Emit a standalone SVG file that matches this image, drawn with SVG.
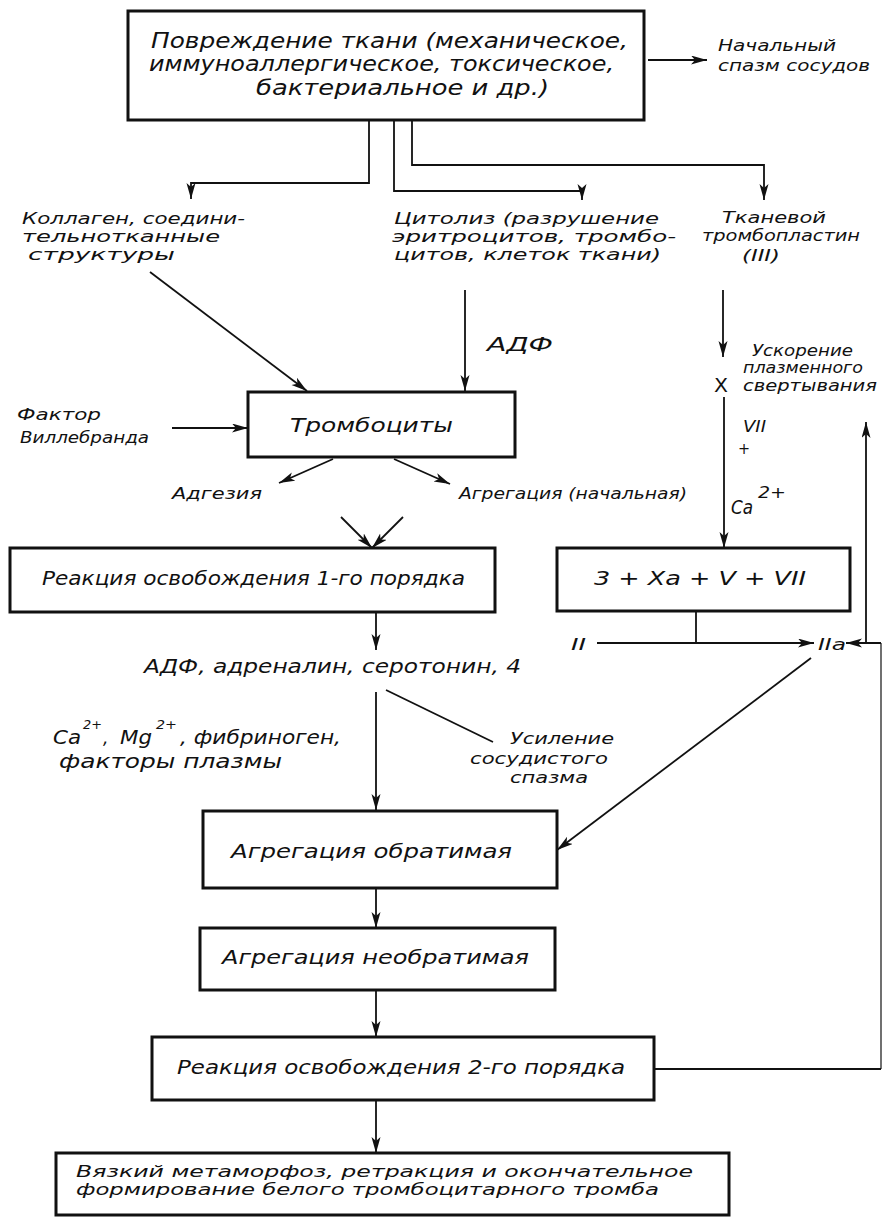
<svg xmlns="http://www.w3.org/2000/svg" width="883" height="1217" viewBox="0 0 883 1217">
<style>
text{font-family:"DejaVu Sans Condensed","DejaVu Sans","Liberation Sans",sans-serif;font-style:italic;fill:#111;font-size:19px}
.big{font-size:21px}
.mid{font-size:16px}
.sm{font-size:15px}
.sup{font-size:12px}
.box{fill:#fff;stroke:#111;stroke-width:3}
.ln{fill:none;stroke:#111;stroke-width:1.8}
.thin{fill:none;stroke:#111;stroke-width:1.2}
</style>
<defs>
<marker id="ah" markerUnits="userSpaceOnUse" markerWidth="18" markerHeight="10" refX="16" refY="4.5" orient="auto">
<path d="M0,0 L16,4.5 L0,9 L4,4.5 z" fill="#111"/>
</marker>
</defs>
<rect width="883" height="1217" fill="#fff"/>

<g id="connectors">
<path class="ln" d="M648,60 H707" marker-end="url(#ah)"/>
<path class="ln" d="M369,120 V183 H191 V199" marker-end="url(#ah)"/>
<path class="ln" d="M394,120 V191 H582 V200" marker-end="url(#ah)"/>
<path class="ln" d="M412,120 V165 H764 V200" marker-end="url(#ah)"/>
<path class="ln" d="M150,272 L307,391" marker-end="url(#ah)"/>
<path class="ln" d="M465,290 V391" marker-end="url(#ah)"/>
<path class="ln" d="M723,290 V357" marker-end="url(#ah)"/>
<path class="ln" d="M724,397 V548" marker-end="url(#ah)"/>
<path class="ln" d="M172,428 H248" marker-end="url(#ah)"/>
<path class="ln" d="M333,459 L279,483" marker-end="url(#ah)"/>
<path class="ln" d="M394,459 L450,484" marker-end="url(#ah)"/>
<path class="ln" d="M341,517 L372,548" marker-end="url(#ah)"/>
<path class="ln" d="M403,517 L372,548" marker-end="url(#ah)"/>
<path class="ln" d="M376,612 V650" marker-end="url(#ah)"/>
<path class="ln" d="M376,692 V810" marker-end="url(#ah)"/>
<path class="ln" d="M386,690 L493,742"/>
<path class="ln" d="M696,611 V643"/>
<path class="ln" d="M597,643 H814" marker-end="url(#ah)"/>
<path class="ln" d="M654,1069 H881"/>
<path class="thin" d="M881,1069 V643"/>
<path class="ln" d="M881,643 H846" marker-end="url(#ah)"/>
<path class="ln" d="M866,643 V422" marker-end="url(#ah)"/>
<path class="ln" d="M811,658 L557,850" marker-end="url(#ah)"/>
<path class="ln" d="M376,888 V928" marker-end="url(#ah)"/>
<path class="ln" d="M376,990 V1037" marker-end="url(#ah)"/>
<path class="ln" d="M376,1100 V1153" marker-end="url(#ah)"/>
</g>

<g id="damage">
<rect class="box" x="128" y="11" width="516" height="109"/>
<text class="big" x="151" y="48" textLength="477" lengthAdjust="spacingAndGlyphs">Повреждение ткани (механическое,</text>
<text class="big" x="149" y="71" textLength="465" lengthAdjust="spacingAndGlyphs">иммуноаллергическое, токсическое,</text>
<text class="big" x="256" y="95" textLength="293" lengthAdjust="spacingAndGlyphs">бактериальное и др.)</text>
</g>

<g id="spasm">
<text class="mid" x="718" y="51" textLength="118" lengthAdjust="spacingAndGlyphs">Начальный</text>
<text class="mid" x="718" y="71" textLength="152" lengthAdjust="spacingAndGlyphs">спазм сосудов</text>
</g>

<g id="collagen">
<text class="mid" x="22" y="224" textLength="223" lengthAdjust="spacingAndGlyphs">Коллаген, соедини-</text>
<text class="mid" x="22" y="242" textLength="198" lengthAdjust="spacingAndGlyphs">тельнотканные</text>
<text class="mid" x="28" y="260" textLength="147" lengthAdjust="spacingAndGlyphs">структуры</text>
</g>

<g id="cytolysis">
<text class="mid" x="394" y="224" textLength="265" lengthAdjust="spacingAndGlyphs">Цитолиз (разрушение</text>
<text class="mid" x="392" y="242" textLength="284" lengthAdjust="spacingAndGlyphs">эритроцитов, тромбо-</text>
<text class="mid" x="394" y="260" textLength="267" lengthAdjust="spacingAndGlyphs">цитов, клеток ткани)</text>
</g>

<g id="thromboplastin">
<text class="mid" x="722" y="223" textLength="104" lengthAdjust="spacingAndGlyphs">Тканевой</text>
<text class="mid" x="702" y="241" textLength="158" lengthAdjust="spacingAndGlyphs">тромбопластин</text>
<text class="mid" x="742" y="261" textLength="38" lengthAdjust="spacingAndGlyphs">(III)</text>
</g>

<g id="adp1">
<text x="487" y="351" textLength="66" lengthAdjust="spacingAndGlyphs">АДФ</text>
</g>

<g id="acceleration">
<text class="sm" x="752" y="356" textLength="101" lengthAdjust="spacingAndGlyphs">Ускорение</text>
<text class="sm" x="743" y="373" textLength="120" lengthAdjust="spacingAndGlyphs">плазменного</text>
<text class="sm" x="743" y="391" textLength="134" lengthAdjust="spacingAndGlyphs">свертывания</text>
<text x="714" y="392" style="font-style:normal" textLength="14" lengthAdjust="spacingAndGlyphs">X</text>
<text class="mid" x="743" y="432" textLength="23" lengthAdjust="spacingAndGlyphs">VII</text>
<text class="mid" x="738" y="454">+</text>
<text x="731" y="514" textLength="22" lengthAdjust="spacingAndGlyphs">Ca</text>
<text class="mid" x="758" y="498" textLength="28" lengthAdjust="spacingAndGlyphs">2+</text>
</g>

<g id="willebrand">
<text class="mid" x="17" y="420" textLength="84" lengthAdjust="spacingAndGlyphs">Фактор</text>
<text class="mid" x="20" y="443" textLength="129" lengthAdjust="spacingAndGlyphs">Виллебранда</text>
</g>

<g id="platelets">
<rect class="box" x="248" y="392" width="267" height="65"/>
<text x="290" y="432" textLength="163" lengthAdjust="spacingAndGlyphs">Тромбоциты</text>
</g>

<g id="adhesion">
<text class="mid" x="172" y="499" textLength="90" lengthAdjust="spacingAndGlyphs">Адгезия</text>
</g>

<g id="aggregation-initial">
<text class="mid" x="459" y="499" textLength="228" lengthAdjust="spacingAndGlyphs">Агрегация (начальная)</text>
</g>

<g id="release1">
<rect class="box" x="10" y="548" width="485" height="64"/>
<text x="42" y="585" textLength="423" lengthAdjust="spacingAndGlyphs">Реакция освобождения 1-го порядка</text>
</g>

<g id="complex">
<rect class="box" x="557" y="548" width="293" height="63"/>
<text x="594" y="585" textLength="212" lengthAdjust="spacingAndGlyphs">3 + Xa + V + VII</text>
</g>

<g id="thrombin">
<text class="mid" x="571" y="650" textLength="15" lengthAdjust="spacingAndGlyphs">II</text>
<text class="mid" x="818" y="650" textLength="28" lengthAdjust="spacingAndGlyphs">IIa</text>
</g>

<g id="mediators">
<text x="144" y="673" textLength="377" lengthAdjust="spacingAndGlyphs">АДФ, адреналин, серотонин, 4</text>
</g>

<g id="cofactors">
<text x="53" y="744" textLength="28" lengthAdjust="spacingAndGlyphs">Ca</text>
<text class="sup" x="83" y="729" textLength="19" lengthAdjust="spacingAndGlyphs">2+</text>
<text x="103" y="744">,</text>
<text x="120" y="744" textLength="32" lengthAdjust="spacingAndGlyphs">Mg</text>
<text class="sup" x="156" y="729" textLength="21" lengthAdjust="spacingAndGlyphs">2+</text>
<text x="180" y="744" textLength="161" lengthAdjust="spacingAndGlyphs">, фибриноген,</text>
<text x="59" y="768" textLength="223" lengthAdjust="spacingAndGlyphs">факторы плазмы</text>
</g>

<g id="spasm-increase">
<text class="mid" x="510" y="744" textLength="104" lengthAdjust="spacingAndGlyphs">Усиление</text>
<text class="mid" x="470" y="764" textLength="138" lengthAdjust="spacingAndGlyphs">сосудистого</text>
<text class="mid" x="510" y="783" textLength="78" lengthAdjust="spacingAndGlyphs">спазма</text>
</g>

<g id="aggregation-reversible">
<rect class="box" x="203" y="811" width="354" height="77"/>
<text x="231" y="858" textLength="281" lengthAdjust="spacingAndGlyphs">Агрегация обратимая</text>
</g>

<g id="aggregation-irreversible">
<rect class="box" x="200" y="928" width="355" height="62"/>
<text x="222" y="964" textLength="307" lengthAdjust="spacingAndGlyphs">Агрегация необратимая</text>
</g>

<g id="release2">
<rect class="box" x="152" y="1037" width="502" height="63"/>
<text x="177" y="1074" textLength="448" lengthAdjust="spacingAndGlyphs">Реакция освобождения 2-го порядка</text>
</g>

<g id="final">
<rect class="box" x="56" y="1153" width="673" height="62"/>
<text class="mid" x="76" y="1177" textLength="617" lengthAdjust="spacingAndGlyphs">Вязкий метаморфоз, ретракция и окончательное</text>
<text class="mid" x="76" y="1195" textLength="583" lengthAdjust="spacingAndGlyphs">формирование белого тромбоцитарного тромба</text>
</g>
</svg>
